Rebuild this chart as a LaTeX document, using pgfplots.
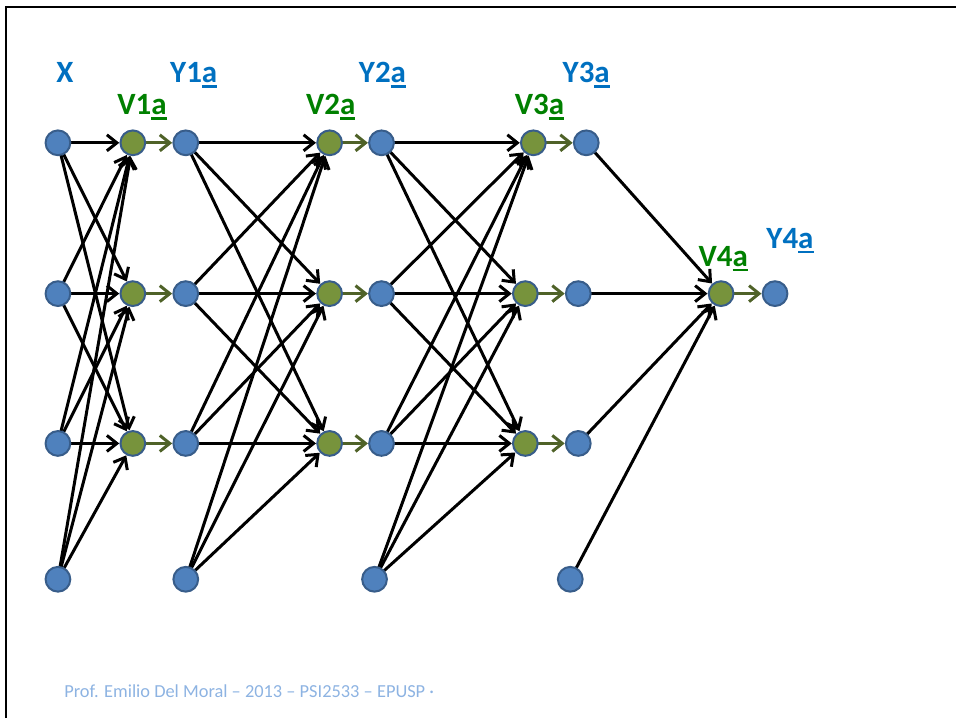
\documentclass[border=0pt]{standalone}
\usepackage{pgfplots}
\pgfplotsset{compat=1.18}
\usepackage{pgfplotstable}
\usetikzlibrary{arrows.meta}
\usepackage{fontspec}
\setmainfont{Carlito}

\definecolor{nodeblue}{HTML}{4F81BD}
\definecolor{nodeedge}{HTML}{385D8A}
\definecolor{nodegreen}{HTML}{77933C}
\definecolor{arrgreen}{HTML}{4F6228}
\definecolor{lblblue}{HTML}{0070C0}
\definecolor{lblgreen}{HTML}{008000}
\definecolor{footblue}{HTML}{8DB3E2}

% underlined letter with a thick rule
\newcommand\ul[1]{\setbox0\hbox{#1}\rlap{\rule[-2.4pt]{\wd0}{1.2pt}}\box0}

% black connections: x1 y1 x2 y2 (pixel coordinates, y downwards)
\pgfplotstableread{
x1 y1 x2 y2
58 143 133 143
58 143 133 294
58 143 133 444
58 294 133 143
58 294 133 294
58 294 133 444
58 444 133 143
58 444 133 294
58 444 133 444
58 580 133 143
58 580 133 294
58 580 133 444
186 143 330 143
186 143 330 294
186 143 330 444
186 294 330 143
186 294 330 294
186 294 330 444
186 444 330 143
186 444 330 294
186 444 330 444
186 580 330 143
186 580 330 294
186 580 330 444
382 143 534 143
382 143 526 294
382 143 526 444
382 294 534 143
382 294 526 294
382 294 526 444
382 444 534 143
382 444 526 294
382 444 526 444
375 580 534 143
375 580 526 294
375 580 526 444
587 143 722 294
579 294 722 294
579 444 722 294
571 580 722 294
}\edges

% green connections V -> Y
\pgfplotstableread{
x1 y1 x2 y2
133 143 186 143
133 294 186 294
133 444 186 444
330 143 382 143
330 294 382 294
330 444 382 444
534 143 587 143
526 294 579 294
526 444 579 444
722 294 776 294
}\gedges

\begin{document}
\begin{tikzpicture}
\begin{axis}[
    scale only axis,
    width=478.5pt, height=359.5pt,
    xmin=0, xmax=957, ymin=0, ymax=719,
    y dir=reverse,
    hide axis,
    clip=false,
]
\path (rel axis cs:0,0) rectangle (rel axis cs:1,1);
% slide frame
\addplot[black, line width=1.2pt] coordinates {(6,719) (6,7) (957,7)};

\addplot[black, line width=1.5pt, -{Straight Barb[length=5pt,width=8pt]},
    quiver={u=\thisrow{x2}-\thisrow{x1}, v=\thisrow{y2}-\thisrow{y1},
            every arrow/.append style={shorten >=6.8pt}}]
    table[x=x1, y=y1] {\edges};

\addplot[arrgreen, line width=1.5pt, -{Straight Barb[length=5pt,width=8pt]},
    quiver={u=\thisrow{x2}-\thisrow{x1}, v=\thisrow{y2}-\thisrow{y1},
            every arrow/.append style={shorten >=6.8pt}}]
    table[x=x1, y=y1] {\gedges};

% blue neurons (X, Y1, Y2, Y3, Y4)
\addplot[only marks, mark=*, mark size=6.2pt,
    mark options={fill=nodeblue, draw=nodeedge, line width=1pt}] coordinates {
    (58,143) (58,294) (58,444) (58,580)
    (186,143) (186,294) (186,444) (186,580)
    (382,143) (382,294) (382,444) (375,580)
    (587,143) (579,294) (579,444) (571,580)
    (776,294)
};
% green neurons (V1..V4)
\addplot[only marks, mark=*, mark size=6.2pt,
    mark options={fill=nodegreen, draw=nodeedge, line width=1pt}] coordinates {
    (133,143) (133,294) (133,444)
    (330,143) (330,294) (330,444)
    (534,143) (526,294) (526,444)
    (722,294)
};

\begin{scope}[font=\fontsize{15.5}{18}\selectfont\bfseries]
\node[anchor=base west, inner sep=0, text=lblblue] at (axis cs:56,83) {X};
\node[anchor=base west, inner sep=0, text=lblblue] at (axis cs:170,83) {Y1\ul{a}};
\node[anchor=base west, inner sep=0, text=lblblue] at (axis cs:359,83) {Y2\ul{a}};
\node[anchor=base west, inner sep=0, text=lblblue] at (axis cs:563,83) {Y3\ul{a}};
\node[anchor=base west, inner sep=0, text=lblblue] at (axis cs:767,249) {Y4\ul{a}};
\node[anchor=base west, inner sep=0, text=lblgreen] at (axis cs:117,115) {V1\ul{a}};
\node[anchor=base west, inner sep=0, text=lblgreen] at (axis cs:306,115) {V2\ul{a}};
\node[anchor=base west, inner sep=0, text=lblgreen] at (axis cs:515,115) {V3\ul{a}};
\node[anchor=base west, inner sep=0, text=lblgreen] at (axis cs:699,267) {V4\ul{a}};
\end{scope}

\node[anchor=base west, inner sep=0, text=footblue, font=\fontsize{9.2}{11}\selectfont]
    at (axis cs:64,698) {Prof. Emilio Del Moral – 2013 – PSI2533 – EPUSP ·};
\end{axis}
\end{tikzpicture}
\end{document}
